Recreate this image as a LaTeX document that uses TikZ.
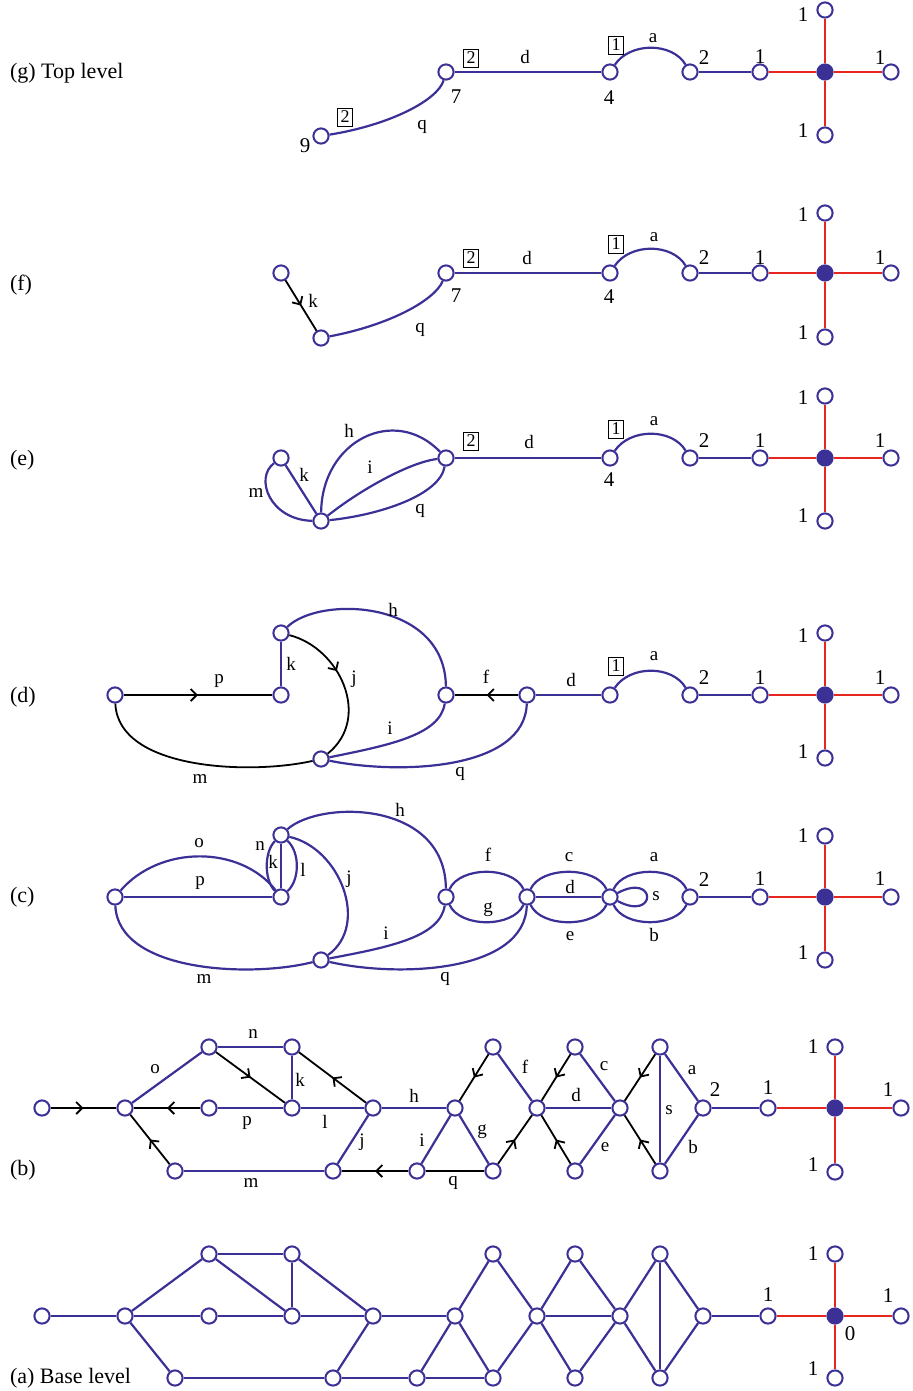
\documentclass[tikz,border=0pt]{standalone}
\usepackage{fontspec}
\setmainfont{Liberation Serif}
\usepackage{tikz}
\usetikzlibrary{arrows.meta,decorations.markings}
\definecolor{gblue}{RGB}{58,48,150}
\definecolor{gred}{RGB}{232,38,32}
\tikzset{
  vtx/.style={circle,draw=gblue,fill=white,line width=1pt,inner sep=0pt,minimum size=7.6pt},
  hub/.style={circle,draw=gblue,fill=gblue,line width=1pt,inner sep=0pt,minimum size=7.6pt},
  bl/.style={draw=gblue,line width=1.1pt},
  rd/.style={draw=gred,line width=0.9pt},
  bk/.style={draw=black,line width=0.9pt},
  lab/.style={font=\fontsize{9.5}{10}\selectfont},
  num/.style={font=\fontsize{10.5}{12}\selectfont},
  bx/.style={draw,line width=0.4pt,inner sep=1.5pt,font=\fontsize{9}{9}\selectfont},
  ttl/.style={anchor=west,font=\fontsize{11}{13}\selectfont},
  midarrow/.style={postaction={decorate},decoration={markings,mark=at position #1 with {\arrow{Straight Barb[length=3pt,width=6pt]}}}}
}
\begin{document}
\begin{tikzpicture}[x=0.5pt,y=-0.5pt]
\useasboundingbox (0,0) rectangle (912,1391);
\node[ttl] at (3,73) {(g) Top level};
\node[vtx] (g9) at (321,136) {};
\node[vtx] (g7) at (446,72) {};
\node[vtx] (g4) at (610,72) {};
\node[vtx] (g2) at (690,72) {};
\node[vtx] (g1) at (760,72) {};
\node[hub] (gc) at (825,72) {};
\node[vtx] (gr) at (891,72) {};
\node[vtx] (gt) at (825,10) {};
\node[vtx] (gb) at (825,135) {};
\draw[bl] (g9) .. controls (390,125) and (438,100) .. (g7);
\draw[bl] (g7) -- (g4);
\draw[bl] (g4) .. controls (630,42) and (672,42) .. (g2);
\draw[bl] (g2) -- (g1);
\draw[rd] (g1) -- (gc);
\draw[rd] (gc) -- (gr);
\draw[rd] (gt) -- (gc);
\draw[rd] (gc) -- (gb);
\node[bx] (gq2) at (345,117) {2};
\node[num] (g9n) at (305,146) {9};
\node[lab] (gql) at (422,127) {q};
\node[bx] (gd2) at (471,58) {2};
\node[lab] (gdl) at (525,57) {d};
\node[num] (g7n) at (456,97) {7};
\node[bx] (ga1) at (616,45) {1};
\node[lab] (gal) at (653,38) {a};
\node[num] (g4n) at (609,98) {4};
\node[num] (g2n) at (704,58) {2};
\node[num] (g1n) at (760,57) {1};
\node[num] (gtn) at (803,15) {1};
\node[num] (grn) at (880,58) {1};
\node[num] (gbn) at (803,131) {1};
\node[ttl] at (3,285) {(f)};
\node[vtx] (fk) at (281,273) {};
\node[vtx] (fq) at (321,338) {};
\node[vtx] (f7) at (446,273) {};
\node[vtx] (f4) at (610,273) {};
\node[vtx] (f2) at (690,273) {};
\node[vtx] (f1) at (760,273) {};
\node[hub] (fc) at (825,273) {};
\node[vtx] (fr) at (891,273) {};
\node[vtx] (ft) at (825,213) {};
\node[vtx] (fb) at (825,337) {};
\draw[bk,midarrow=0.5] (fk) -- (fq);
\draw[bl] (fq) .. controls (390,325) and (435,300) .. (f7);
\draw[bl] (f7) -- (f4);
\draw[bl] (f4) .. controls (630,243) and (672,243) .. (f2);
\draw[bl] (f2) -- (f1);
\draw[rd] (f1) -- (fc);
\draw[rd] (fc) -- (fr);
\draw[rd] (ft) -- (fc);
\draw[rd] (fc) -- (fb);
\node[lab] (fkl) at (313,301) {k};
\node[lab] (fql) at (420,330) {q};
\node[bx] (fd2) at (471,258) {2};
\node[lab] (fdl) at (527,258) {d};
\node[num] (f7n) at (456,296) {7};
\node[bx] (fa1) at (616,244) {1};
\node[lab] (fal) at (654,237) {a};
\node[num] (f4n) at (609,297) {4};
\node[num] (f2n) at (704,258) {2};
\node[num] (f1n) at (760,258) {1};
\node[num] (ftn) at (803,215) {1};
\node[num] (frn) at (880,258) {1};
\node[num] (fbn) at (803,333) {1};
\node[ttl] at (3,460) {(e)};
\node[vtx] (eL) at (281,458) {};
\node[vtx] (eB) at (321,521) {};
\node[vtx] (eR) at (446,458) {};
\node[vtx] (e4) at (610,458) {};
\node[vtx] (e2) at (690,458) {};
\node[vtx] (e1) at (760,458) {};
\node[hub] (ec) at (825,458) {};
\node[vtx] (er) at (891,458) {};
\node[vtx] (et) at (825,396) {};
\node[vtx] (eb) at (825,521) {};
\draw[bl] (eL) .. controls (254,478) and (270,520) .. (eB);
\draw[bl] (eL) -- (eB);
\draw[bl] (eB) .. controls (322,440) and (395,405) .. (eR);
\draw[bl] (eB) .. controls (360,490) and (410,462) .. (eR);
\draw[bl] (eB) .. controls (380,515) and (440,495) .. (eR);
\draw[bl] (eR) -- (e4);
\draw[bl] (e4) .. controls (630,428) and (672,428) .. (e2);
\draw[bl] (e2) -- (e1);
\draw[rd] (e1) -- (ec);
\draw[rd] (ec) -- (er);
\draw[rd] (et) -- (ec);
\draw[rd] (ec) -- (eb);
\node[lab] (eml) at (256,493) {m};
\node[lab] (ekl) at (304,475) {k};
\node[lab] (ehl) at (349,431) {h};
\node[lab] (eil) at (370,467) {i};
\node[lab] (eql) at (420,511) {q};
\node[bx] (ed2) at (471,441) {2};
\node[lab] (edl) at (529,442) {d};
\node[bx] (ea1) at (616,429) {1};
\node[lab] (eal) at (654,421) {a};
\node[num] (e4n) at (609,480) {4};
\node[num] (e2n) at (704,441) {2};
\node[num] (e1n) at (760,441) {1};
\node[num] (etn) at (803,398) {1};
\node[num] (ern) at (880,441) {1};
\node[num] (ebn) at (803,516) {1};
\node[ttl] at (3,697) {(d)};
\node[vtx] (dL) at (115,695) {};
\node[vtx] (dP) at (281,695) {};
\node[vtx] (dK) at (281,633) {};
\node[vtx] (dB) at (321,759) {};
\node[vtx] (dF) at (446,695) {};
\node[vtx] (dR) at (527,695) {};
\node[vtx] (d4) at (610,695) {};
\node[vtx] (d2) at (690,695) {};
\node[vtx] (d1) at (760,695) {};
\node[hub] (dc) at (825,695) {};
\node[vtx] (dr) at (891,695) {};
\node[vtx] (dt) at (825,633) {};
\node[vtx] (db) at (825,758) {};
\draw[bk,midarrow=0.5] (dL) -- (dP);
\draw[bl] (dP) -- (dK);
\draw[bk,midarrow=0.4] (dK) .. controls (340,648) and (372,718) .. (dB);
\draw[bl] (dK) .. controls (320,595) and (445,600) .. (dF);
\draw[bl] (dB) .. controls (390,745) and (440,735) .. (dF);
\draw[bk,midarrow=0.5] (dR) -- (dF);
\draw[bl] (dB) .. controls (400,775) and (525,770) .. (dR);
\draw[bk] (dL) .. controls (118,770) and (250,775) .. (dB);
\draw[bl] (dR) -- (d4);
\draw[bl] (d4) .. controls (630,665) and (672,665) .. (d2);
\draw[bl] (d2) -- (d1);
\draw[rd] (d1) -- (dc);
\draw[rd] (dc) -- (dr);
\draw[rd] (dt) -- (dc);
\draw[rd] (dc) -- (db);
\node[lab] (dpl) at (219,681) {p};
\node[lab] (dkl) at (291,664) {k};
\node[lab] (djl) at (354,679) {j};
\node[lab] (dhl) at (393,610) {h};
\node[lab] (dfl) at (486,677) {f};
\node[lab] (ddl) at (571,680) {d};
\node[bx] (da1) at (616,666) {1};
\node[lab] (dal) at (654,656) {a};
\node[lab] (dil) at (390,728) {i};
\node[lab] (dml) at (200,779) {m};
\node[lab] (dql) at (460,774) {q};
\node[num] (d2n) at (704,678) {2};
\node[num] (d1n) at (760,678) {1};
\node[num] (dtn) at (803,636) {1};
\node[num] (drn) at (880,678) {1};
\node[num] (dbn) at (803,752) {1};
\node[ttl] at (3,897) {(c)};
\node[vtx] (cL) at (115,897) {};
\node[vtx] (cP) at (281,897) {};
\node[vtx] (cK) at (281,835) {};
\node[vtx] (cB) at (321,960) {};
\node[vtx] (cF) at (446,897) {};
\node[vtx] (cC) at (527,897) {};
\node[vtx] (cS) at (610,897) {};
\node[vtx] (c2) at (690,897) {};
\node[vtx] (c1) at (760,897) {};
\node[hub] (cc) at (825,897) {};
\node[vtx] (cr) at (891,897) {};
\node[vtx] (ct) at (825,836) {};
\node[vtx] (cb) at (825,960) {};
\draw[bl] (cL) -- (cP);
\draw[bl] (cL) .. controls (160,845) and (240,845) .. (cP);
\draw[bl] (cP) -- (cK);
\draw[bl] (cP) .. controls (264,880) and (264,852) .. (cK);
\draw[bl] (cP) .. controls (300,880) and (300,852) .. (cK);
\draw[bl] (cK) .. controls (320,800) and (445,800) .. (cF);
\draw[bl] (cK) .. controls (340,848) and (370,925) .. (cB);
\draw[bl] (cB) .. controls (390,947) and (440,937) .. (cF);
\draw[bl] (cB) .. controls (400,978) and (525,972) .. (cC);
\draw[bl] (cL) .. controls (118,972) and (250,978) .. (cB);
\draw[bl] (cF) .. controls (460,866) and (513,866) .. (cC);
\draw[bl] (cF) .. controls (460,928) and (513,928) .. (cC);
\draw[bl] (cC) .. controls (541,866) and (596,866) .. (cS);
\draw[bl] (cC) -- (cS);
\draw[bl] (cC) .. controls (541,928) and (596,928) .. (cS);
\draw[bl] (cS) .. controls (624,866) and (676,866) .. (c2);
\draw[bl] (cS) .. controls (624,928) and (676,928) .. (c2);
\draw[bl] (cS) .. controls (657,872) and (657,922) .. (cS);
\draw[bl] (c2) -- (c1);
\draw[rd] (c1) -- (cc);
\draw[rd] (cc) -- (cr);
\draw[rd] (ct) -- (cc);
\draw[rd] (cc) -- (cb);
\node[lab] (col) at (199,843) {o};
\node[lab] (cpl) at (200,883) {p};
\node[lab] (cnl) at (260,846) {n};
\node[lab] (ckl) at (273,862) {k};
\node[lab] (cll) at (303,870) {l};
\node[lab] (cjl) at (349,879) {j};
\node[lab] (chl) at (400,810) {h};
\node[lab] (cfl) at (488,855) {f};
\node[lab] (cgl) at (488,910) {g};
\node[lab] (ccl) at (569,857) {c};
\node[lab] (cdl) at (570,887) {d};
\node[lab] (cel) at (570,936) {e};
\node[lab] (cal) at (654,857) {a};
\node[lab] (csl) at (656,896) {s};
\node[lab] (cbl) at (654,935) {b};
\node[lab] (cil) at (386,933) {i};
\node[lab] (cml) at (204,979) {m};
\node[lab] (cql) at (445,979) {q};
\node[num] (c2n) at (704,880) {2};
\node[num] (c1n) at (760,879) {1};
\node[num] (ctn) at (803,836) {1};
\node[num] (crn) at (880,879) {1};
\node[num] (cbn) at (803,953) {1};
\node[ttl] at (3,1170) {(b)};
\node[vtx] (bA) at (42,1108) {};
\node[vtx] (bB) at (125,1108) {};
\node[vtx] (bC) at (209,1047) {};
\node[vtx] (bD) at (209,1108) {};
\node[vtx] (bE) at (292,1047) {};
\node[vtx] (bF) at (292,1108) {};
\node[vtx] (bG) at (175,1171) {};
\node[vtx] (bH) at (373,1108) {};
\node[vtx] (bI) at (333,1171) {};
\node[vtx] (bJ) at (455,1108) {};
\node[vtx] (bK) at (417,1171) {};
\node[vtx] (bL) at (493,1047) {};
\node[vtx] (bM) at (493,1171) {};
\node[vtx] (bN) at (537,1108) {};
\node[vtx] (bO) at (575,1047) {};
\node[vtx] (bP) at (575,1171) {};
\node[vtx] (bQ) at (620,1108) {};
\node[vtx] (bR) at (660,1047) {};
\node[vtx] (bS) at (660,1171) {};
\node[vtx] (bT) at (703,1108) {};
\node[vtx] (bU) at (768,1108) {};
\node[hub] (bc) at (835,1108) {};
\node[vtx] (br) at (901,1108) {};
\node[vtx] (bt) at (835,1047) {};
\node[vtx] (bb) at (835,1172) {};
\draw[bk,midarrow=0.5] (bA) -- (bB);
\draw[bl] (bB) -- (bC);
\draw[bk,midarrow=0.5] (bD) -- (bB);
\draw[bk,midarrow=0.5] (bG) -- (bB);
\draw[bl] (bC) -- (bE);
\draw[bk,midarrow=0.5] (bC) -- (bF);
\draw[bl] (bD) -- (bF);
\draw[bl] (bE) -- (bF);
\draw[bk,midarrow=0.5] (bH) -- (bE);
\draw[bl] (bF) -- (bH);
\draw[bl] (bG) -- (bI);
\draw[bl] (bH) -- (bI);
\draw[bk,midarrow=0.5] (bK) -- (bI);
\draw[bl] (bH) -- (bJ);
\draw[bl] (bJ) -- (bK);
\draw[bl] (bJ) -- (bM);
\draw[bk] (bK) -- (bM);
\draw[bk,midarrow=0.5] (bL) -- (bJ);
\draw[bl] (bL) -- (bN);
\draw[bk,midarrow=0.5] (bM) -- (bN);
\draw[bl] (bN) -- (bQ);
\draw[bk,midarrow=0.5] (bO) -- (bN);
\draw[bl] (bO) -- (bQ);
\draw[bk,midarrow=0.5] (bP) -- (bN);
\draw[bl] (bP) -- (bQ);
\draw[bk,midarrow=0.5] (bR) -- (bQ);
\draw[bk,midarrow=0.5] (bS) -- (bQ);
\draw[bl] (bR) -- (bS);
\draw[bl] (bR) -- (bT);
\draw[bl] (bS) -- (bT);
\draw[bl] (bT) -- (bU);
\draw[rd] (bU) -- (bc);
\draw[rd] (bc) -- (br);
\draw[rd] (bt) -- (bc);
\draw[rd] (bc) -- (bb);
\node[lab] (bol) at (155,1069) {o};
\node[lab] (bnl) at (253,1034) {n};
\node[lab] (bkl) at (300,1080) {k};
\node[lab] (bpl) at (247,1123) {p};
\node[lab] (bll) at (325,1122) {l};
\node[lab] (bhl) at (414,1096) {h};
\node[lab] (bjl) at (362,1142) {j};
\node[lab] (bml) at (251,1183) {m};
\node[lab] (bil) at (422,1140) {i};
\node[lab] (bgl) at (482,1132) {g};
\node[lab] (bql) at (453,1183) {q};
\node[lab] (bfl) at (525,1067) {f};
\node[lab] (bdl) at (576,1095) {d};
\node[lab] (bcl) at (604,1066) {c};
\node[lab] (bel) at (605,1147) {e};
\node[lab] (bsl) at (669,1110) {s};
\node[lab] (bal) at (692,1070) {a};
\node[lab] (bbl) at (693,1147) {b};
\node[num] (b2n) at (715,1090) {2};
\node[num] (b1n) at (768,1088) {1};
\node[num] (btn) at (813,1047) {1};
\node[num] (brn) at (888,1090) {1};
\node[num] (bbn) at (813,1165) {1};
\node[ttl] at (3,1378) {(a) Base level};
\node[vtx] (aA) at (42,1316) {};
\node[vtx] (aB) at (125,1316) {};
\node[vtx] (aC) at (209,1254) {};
\node[vtx] (aD) at (209,1316) {};
\node[vtx] (aE) at (292,1254) {};
\node[vtx] (aF) at (292,1316) {};
\node[vtx] (aG) at (175,1378) {};
\node[vtx] (aH) at (373,1316) {};
\node[vtx] (aI) at (333,1378) {};
\node[vtx] (aJ) at (455,1316) {};
\node[vtx] (aK) at (417,1378) {};
\node[vtx] (aL) at (493,1254) {};
\node[vtx] (aM) at (493,1378) {};
\node[vtx] (aN) at (537,1316) {};
\node[vtx] (aO) at (575,1254) {};
\node[vtx] (aP) at (575,1378) {};
\node[vtx] (aQ) at (620,1316) {};
\node[vtx] (aR) at (660,1254) {};
\node[vtx] (aS) at (660,1378) {};
\node[vtx] (aT) at (703,1316) {};
\node[vtx] (aU) at (768,1316) {};
\node[hub] (ac) at (835,1316) {};
\node[vtx] (ar) at (901,1316) {};
\node[vtx] (at) at (835,1254) {};
\node[vtx] (ab) at (835,1378) {};
\draw[bl] (aA) -- (aB);
\draw[bl] (aB) -- (aC);
\draw[bl] (aB) -- (aD);
\draw[bl] (aB) -- (aG);
\draw[bl] (aC) -- (aE);
\draw[bl] (aC) -- (aF);
\draw[bl] (aD) -- (aF);
\draw[bl] (aE) -- (aF);
\draw[bl] (aE) -- (aH);
\draw[bl] (aF) -- (aH);
\draw[bl] (aG) -- (aI);
\draw[bl] (aH) -- (aI);
\draw[bl] (aI) -- (aK);
\draw[bl] (aH) -- (aJ);
\draw[bl] (aJ) -- (aK);
\draw[bl] (aJ) -- (aM);
\draw[bl] (aK) -- (aM);
\draw[bl] (aL) -- (aJ);
\draw[bl] (aL) -- (aN);
\draw[bl] (aM) -- (aN);
\draw[bl] (aN) -- (aQ);
\draw[bl] (aO) -- (aN);
\draw[bl] (aO) -- (aQ);
\draw[bl] (aP) -- (aN);
\draw[bl] (aP) -- (aQ);
\draw[bl] (aR) -- (aQ);
\draw[bl] (aS) -- (aQ);
\draw[bl] (aR) -- (aS);
\draw[bl] (aR) -- (aT);
\draw[bl] (aS) -- (aT);
\draw[bl] (aT) -- (aU);
\draw[rd] (aU) -- (ac);
\draw[rd] (ac) -- (ar);
\draw[rd] (at) -- (ac);
\draw[rd] (ac) -- (ab);
\node[num] (a1n) at (768,1295) {1};
\node[num] (atn) at (813,1254) {1};
\node[num] (arn) at (888,1296) {1};
\node[num] (a0n) at (850,1334) {0};
\node[num] (abn) at (813,1369) {1};
\end{tikzpicture}
\end{document}
